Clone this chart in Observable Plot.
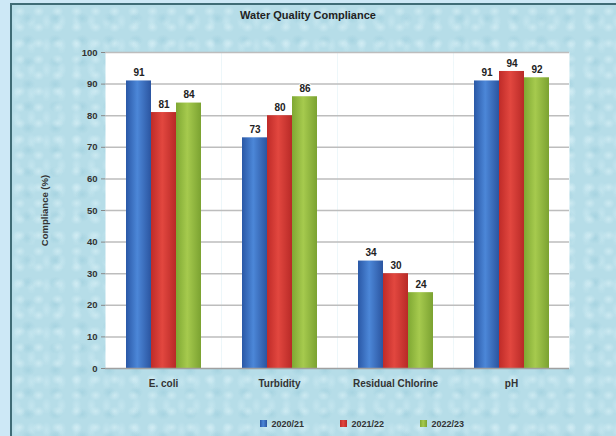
<!DOCTYPE html>
<html>
<head>
<meta charset="utf-8">
<script src="https://cdn.jsdelivr.net/npm/d3@7"></script>
<script src="https://cdn.jsdelivr.net/npm/@observablehq/plot@0.6"></script>
<style>
  html, body { margin: 0; padding: 0; }
  body { width: 616px; height: 436px; overflow: hidden; background: #cde8f6; font-family: "Liberation Sans", Arial, sans-serif; }
  #frame {
    position: absolute; left: 10px; top: 3px; width: 604px; height: 433px;
    border-left: 2px solid #3f6c76; border-top: 2px solid #3f6c76;
    background-color: #b6dde8;
    background-image:
      radial-gradient(ellipse at 40% 40%, rgba(230,248,252,0.45) 0, rgba(230,248,252,0) 6px),
      radial-gradient(ellipse at 60% 60%, rgba(140,195,212,0.35) 0, rgba(140,195,212,0) 7px),
      radial-gradient(ellipse at 30% 70%, rgba(220,244,250,0.35) 0, rgba(220,244,250,0) 5px);
    background-size: 19px 16px, 27px 22px, 15px 24px;
  }
  #title { position: absolute; left: 0; top: 9px; width: 616px; text-align: center; font-weight: bold; font-size: 11px; color: #222; }
  #chart { position: absolute; left: 0; top: 0; }
  #legend { position: absolute; left: 212px; top: 407px; width: 300px; display: flex; justify-content: center; }
</style>
</head>
<body>
<svg width="0" height="0" style="position:absolute">
  <defs>
    <linearGradient id="gBlue" x1="0" x2="1" y1="0" y2="0">
      <stop offset="0" stop-color="#2a58a6"/>
      <stop offset="0.45" stop-color="#4c87d8"/>
      <stop offset="1" stop-color="#2b55a0"/>
    </linearGradient>
    <linearGradient id="gRed" x1="0" x2="1" y1="0" y2="0">
      <stop offset="0" stop-color="#bf2b28"/>
      <stop offset="0.45" stop-color="#e2473f"/>
      <stop offset="1" stop-color="#b82a27"/>
    </linearGradient>
    <linearGradient id="gGreen" x1="0" x2="1" y1="0" y2="0">
      <stop offset="0" stop-color="#7fa833"/>
      <stop offset="0.45" stop-color="#a6ca4e"/>
      <stop offset="1" stop-color="#7ba231"/>
    </linearGradient>
  </defs>
</svg>
<div id="frame"></div>
<div id="title">Water Quality Compliance</div>
<div id="chart"></div>
<div id="legend"></div>
<script>
const categories = ["E. coli", "Turbidity", "Residual Chlorine", "pH"];
const seriesNames = ["2020/21", "2021/22", "2022/23"];
const values2020 = [91, 73, 34, 91];
const values2021 = [81, 80, 30, 94];
const values2022 = [84, 86, 24, 92];
const yTicks = [0, 10, 20, 30, 40, 50, 60, 70, 80, 90, 100];
const seriesFills = ["url(#gBlue)", "url(#gRed)", "url(#gGreen)"];

const seriesValues = [values2020, values2021, values2022];
const rows = categories.flatMap((c, i) =>
  seriesNames.map((s, j) => ({category: c, series: s, value: seriesValues[j][i]}))
);

const chart = Plot.plot({
  width: 616,
  height: 400,
  marginLeft: 103,
  marginRight: 46,
  marginTop: 52,
  marginBottom: 32,
  style: {fontFamily: "'Liberation Sans', Arial, sans-serif", fontWeight: "bold", fontSize: "9px", color: "#333", background: "transparent", overflow: "visible"},
  fx: {domain: categories, padding: 0, label: null},
  x: {domain: seriesNames, paddingInner: 0, paddingOuter: 0.755, axis: null},
  y: {domain: [0, 100], label: null},
  color: {domain: seriesNames, range: seriesFills},
  marks: [
    Plot.frame({fill: "white"}),
    Plot.ruleY(yTicks.slice(1), {stroke: "#bdbdbd", strokeWidth: 1.5}),
    Plot.barY(rows, {fx: "category", x: "series", y: "value", fill: "series"}),
    Plot.text(rows, {fx: "category", x: "series", y: "value", text: "value", dy: -8, fontSize: 10, fontWeight: "bold", fill: "#222", stroke: "white", strokeWidth: 2, paintOrder: "stroke"}),
    Plot.ruleY([0], {stroke: "#a0a0a0", strokeWidth: 1.5}),
    Plot.axisY({ticks: yTicks, tickSize: 4, tickPadding: 4, stroke: "#888", fontSize: 9.5, label: "Compliance (%)", labelAnchor: "center", labelArrow: "none", labelOffset: 64}),
    Plot.axisFx({anchor: "bottom", tickSize: 0, tickPadding: 11, fontSize: 10, label: null})
  ]
});
document.getElementById("chart").appendChild(chart);

const legend = chart.legend("color", {swatchSize: 7, style: {fontFamily: "'Liberation Sans', Arial, sans-serif", fontWeight: "bold", fontSize: "9px", color: "#333", background: "transparent"}});
legend.querySelectorAll("span").forEach((s, i, all) => { s.style.marginRight = i < all.length - 1 ? "36px" : "0"; });
document.getElementById("legend").appendChild(legend);
</script>
</body>
</html>
